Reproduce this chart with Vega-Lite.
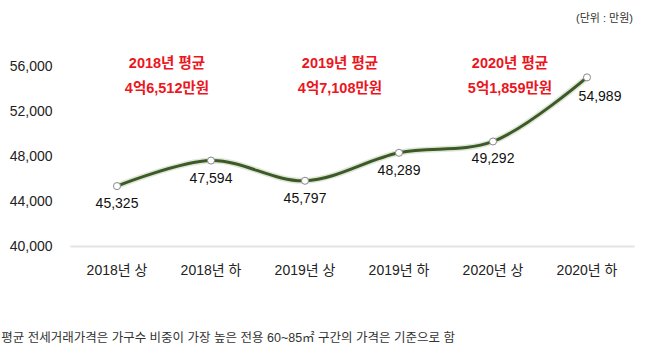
{
  "$schema": "https://vega.github.io/schema/vega-lite/v6.json",
  "width": 564,
  "height": 225,
  "autosize": "none",
  "padding": {"left": 70, "top": 21, "right": 24, "bottom": 102},
  "background": "white",
  "config": {
    "view": {"stroke": null},
    "font": "Liberation Sans, Noto Sans CJK KR",
    "title": {"font": "Liberation Sans, Noto Sans CJK KR"}
  },
  "title": {
    "text": "평균 전세거래가격은 가구수 비중이 가장 높은 전용 60~85㎡ 구간의 가격은 기준으로 함",
    "orient": "bottom",
    "anchor": "start",
    "frame": "bounds",
    "dx": -8,
    "offset": 55,
    "fontSize": 12.5,
    "fontWeight": "normal",
    "color": "#333333"
  },
  "datasets": {
    "main": [
      {"period": "2018년 상", "price": 45325},
      {"period": "2018년 하", "price": 47594},
      {"period": "2019년 상", "price": 45797},
      {"period": "2019년 하", "price": 48289},
      {"period": "2020년 상", "price": 49292},
      {"period": "2020년 하", "price": 54989}
    ],
    "notes": [
      {"period": "2018년 상", "year": "y2018", "title": "2018년 평균", "avg": "4억6,512만원"},
      {"period": "2019년 상", "year": "y2019", "title": "2019년 평균", "avg": "4억7,108만원"},
      {"period": "2020년 상", "year": "y2020", "title": "2020년 평균", "avg": "5억1,859만원"}
    ],
    "unit": [
      {"period": "2020년 하", "unit": "(단위 : 만원)"}
    ]
  },
  "encoding": {
    "x": {
      "field": "period",
      "type": "ordinal",
      "sort": ["2018년 상", "2018년 하", "2019년 상", "2019년 하", "2020년 상", "2020년 하"],
      "scale": {"type": "band", "paddingInner": 0, "paddingOuter": 0},
      "axis": {
        "title": null,
        "labelAngle": 0,
        "ticks": false,
        "domain": true,
        "domainColor": "#e4e4e4",
        "domainWidth": 2,
        "labelPadding": 17,
        "labelFontSize": 14,
        "labelColor": "#222222"
      }
    }
  },
  "layer": [
    {
      "data": {"name": "main"},
      "encoding": {
        "y": {
          "field": "price",
          "type": "quantitative",
          "scale": {"domain": [40000, 60000], "nice": false, "zero": false},
          "axis": {
            "title": null,
            "values": [40000, 44000, 48000, 52000, 56000],
            "labelExpr": "format(datum.value, ',')",
            "grid": false,
            "domain": false,
            "ticks": false,
            "labelPadding": 18,
            "labelFontSize": 14,
            "labelColor": "#222222"
          }
        }
      },
      "layer": [
        {
          "mark": {"type": "line", "interpolate": "catmull-rom", "color": "#c9d3bf", "strokeWidth": 6, "opacity": 0.6}
        },
        {
          "mark": {"type": "line", "interpolate": "catmull-rom", "color": "#3b5a25", "strokeWidth": 3}
        },
        {
          "mark": {"type": "point", "filled": true, "fill": "white", "stroke": "#8a8a8a", "strokeWidth": 1, "size": 50, "opacity": 1}
        },
        {
          "transform": [{"filter": "datum.period != '2020년 하'"}],
          "mark": {"type": "text", "baseline": "middle", "align": "center", "dy": 18, "fontSize": 14, "color": "#111111"},
          "encoding": {"text": {"field": "price", "type": "quantitative", "format": ","}}
        },
        {
          "transform": [{"filter": "datum.period == '2020년 하'"}],
          "mark": {"type": "text", "baseline": "middle", "align": "center", "dx": 13, "dy": 20, "fontSize": 14, "color": "#111111"},
          "encoding": {"text": {"field": "price", "type": "quantitative", "format": ","}}
        }
      ]
    },
    {
      "data": {"name": "notes"},
      "transform": [{"filter": "datum.year == 'y2018'"}],
      "mark": {"type": "text", "align": "center", "baseline": "alphabetic", "dx": 50, "dy": 2, "fontSize": 14.5, "fontWeight": "bold", "color": "#ec1520"},
      "encoding": {"y": {"datum": 56000, "type": "quantitative"}, "text": {"field": "title"}}
    },
    {
      "data": {"name": "notes"},
      "transform": [{"filter": "datum.year == 'y2018'"}],
      "mark": {"type": "text", "align": "center", "baseline": "alphabetic", "dx": 50, "dy": 27, "fontSize": 14.5, "fontWeight": "bold", "color": "#ec1520"},
      "encoding": {"y": {"datum": 56000, "type": "quantitative"}, "text": {"field": "avg"}}
    },
    {
      "data": {"name": "notes"},
      "transform": [{"filter": "datum.year == 'y2019'"}],
      "mark": {"type": "text", "align": "center", "baseline": "alphabetic", "dx": 35, "dy": 2, "fontSize": 14.5, "fontWeight": "bold", "color": "#ec1520"},
      "encoding": {"y": {"datum": 56000, "type": "quantitative"}, "text": {"field": "title"}}
    },
    {
      "data": {"name": "notes"},
      "transform": [{"filter": "datum.year == 'y2019'"}],
      "mark": {"type": "text", "align": "center", "baseline": "alphabetic", "dx": 35, "dy": 27, "fontSize": 14.5, "fontWeight": "bold", "color": "#ec1520"},
      "encoding": {"y": {"datum": 56000, "type": "quantitative"}, "text": {"field": "avg"}}
    },
    {
      "data": {"name": "notes"},
      "transform": [{"filter": "datum.year == 'y2020'"}],
      "mark": {"type": "text", "align": "center", "baseline": "alphabetic", "dx": 17, "dy": 2, "fontSize": 14.5, "fontWeight": "bold", "color": "#ec1520"},
      "encoding": {"y": {"datum": 56000, "type": "quantitative"}, "text": {"field": "title"}}
    },
    {
      "data": {"name": "notes"},
      "transform": [{"filter": "datum.year == 'y2020'"}],
      "mark": {"type": "text", "align": "center", "baseline": "alphabetic", "dx": 17, "dy": 27, "fontSize": 14.5, "fontWeight": "bold", "color": "#ec1520"},
      "encoding": {"y": {"datum": 56000, "type": "quantitative"}, "text": {"field": "avg"}}
    },
    {
      "data": {"name": "unit"},
      "mark": {"type": "text", "align": "right", "baseline": "alphabetic", "dx": 46, "dy": 1, "fontSize": 11, "color": "#333333"},
      "encoding": {"y": {"datum": 60000, "type": "quantitative"}, "text": {"field": "unit"}}
    }
  ]
}
